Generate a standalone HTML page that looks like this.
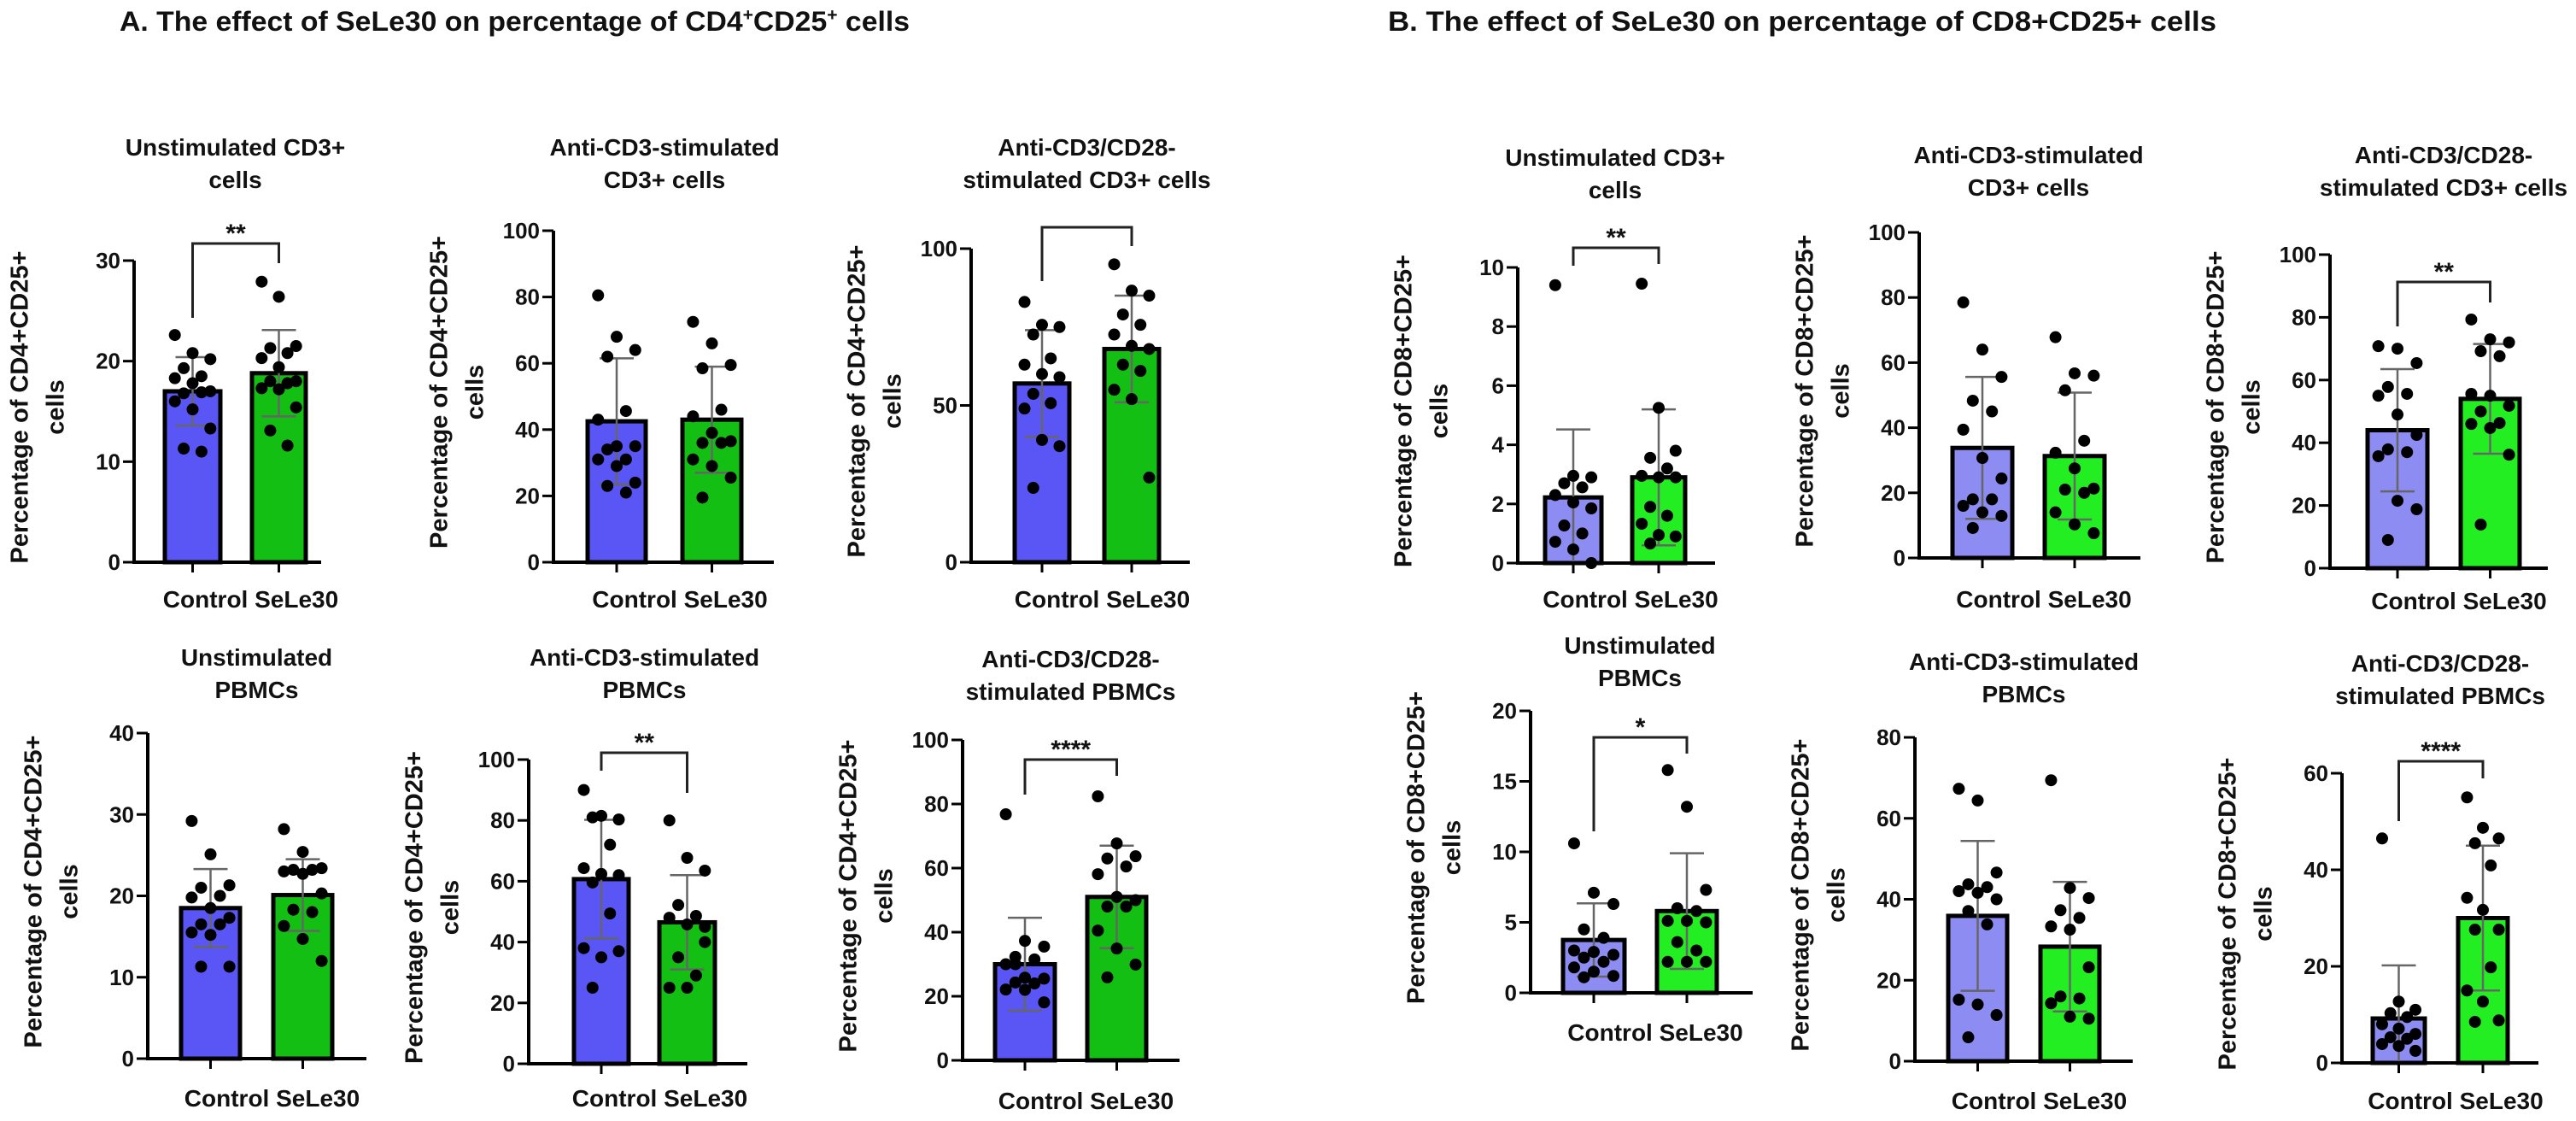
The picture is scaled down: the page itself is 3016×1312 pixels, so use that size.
<!DOCTYPE html>
<html><head><meta charset="utf-8"><style>
html,body{margin:0;padding:0;background:#fff;}
svg{display:block;}
text{font-family:"Liberation Sans",sans-serif;font-weight:bold;fill:#111;}
.narrow{font-family:"Liberation Sans Narrow","Liberation Sans",sans-serif;}
</style></head><body>
<svg id="fig" width="3016" height="1312" viewBox="0 0 3016 1312" xmlns="http://www.w3.org/2000/svg">
<rect width="3016" height="1312" fill="#fff"/>
<text class="narrow" x="140" y="36" font-size="32" textLength="925" lengthAdjust="spacingAndGlyphs">A. The effect of SeLe30 on percentage of CD4<tspan font-size="20" dy="-12">+</tspan><tspan dy="12">CD25</tspan><tspan font-size="20" dy="-12">+</tspan><tspan dy="12"> cells</tspan></text>
<text class="narrow" x="1625" y="36" font-size="32" textLength="970" lengthAdjust="spacingAndGlyphs">B. The effect of SeLe30 on percentage of CD8+CD25+ cells</text>
</svg>
<script>
// ---- data ----
const groups = ["Control", "SeLe30"];
const a1Means = [17, 18.8]; const a1Sd = [3.4, 4.3];
const a1Control = [22.6,20.8,20.2,19.3,18.5,18.3,17.8,17,16.8,16.9,16,15.2,13.3,11.3,11];
const a1Sele = [27.9,26.4,21.5,21.3,20.8,20.3,19.4,18,18,17.8,17.3,17.2,15.4,13.1,11.6];
const a2Means = [42.5, 43]; const a2Sd = [19, 16];
const a2Control = [80.5,68,64,62,45.6,43,35,35,34,31,31,29,24,23,21];
const a2Sele = [72.5,66,59.5,58.5,46,44,39,36.5,36,36,31,29,25.5,19.5];
const a3Means = [57, 68]; const a3Sd = [17, 17];
const a3Control = [83,75.7,75,72.6,65,63,60,59,53.7,50.7,49,39,37,23.7];
const a3Sele = [95,86.6,85,79,75.7,72.6,69,68,63,61,55,52,27];
const a4Means = [18.5, 20.1]; const a4Sd = [4.8, 4.4];
const a4Control = [29.2,25.1,21.3,21,20,19.8,18.5,17.3,16.5,16.5,15.5,15.2,11.3,11.3];
const a4Sele = [28.2,25.4,23.4,23.2,23.2,23,22.7,20.3,18.3,18,16.3,14.7,12];
const a5Means = [60.7, 46.5]; const a5Sd = [19.5, 15.5];
const a5Control = [90,81.5,80.3,81,72,64.3,62.4,62,59.6,49.4,38,35,37,25];
const a5Sele = [80,67.7,63.5,52.2,48.6,48,45.8,40,35,29,25,25,45];
const a6Means = [30, 51]; const a6Sd = [14.5, 16];
const a6Control = [76.8,37.3,35.5,32.3,31.5,30,25.8,25.5,24.3,24,22.1,22,18.1,30];
const a6Sele = [82.4,67.7,63.7,63,60.5,58.1,51,50,48,48,40.5,34.9,29.9,25.9];
const b1Means = [2.22, 2.9]; const b1Sd = [2.3, 2.3];
const b1Control = [9.4,2.95,2.9,2.7,2.56,2.3,2.05,1.85,1.27,1.0,0.72,0.46,0.0];
const b1Sele = [9.45,5.25,3.8,3.56,3.2,2.95,2.9,2.9,1.9,1.6,1.33,0.95,0.9,0.66];
const b2Means = [33.8, 31.3]; const b2Sd = [21.8, 19.5];
const b2Control = [78.5,64,55.6,48.3,45,39.4,30.7,24.4,18,18,16,14,12.9,9.2];
const b2Sele = [67.8,56.7,56,51.5,36,32.3,27.5,21.3,21,20,14,10.3,7.6];
const b3Means = [44, 54]; const b3Sd = [19.5, 17.5];
const b3Control = [70.8,70,65.4,57.8,55.6,55,49,42.5,37.9,37,35.7,21.5,18.8,9];
const b3Sele = [79.3,73,72,69.2,67.6,55.6,55,51.8,50,46.3,46,44.7,36.2,13.9];
const b4Means = [3.75, 5.8]; const b4Sd = [2.6, 4.1];
const b4Control = [10.6,7.1,6.3,4.5,3.9,3,2.9,2.7,2.5,2.2,1.8,1.5,1.2,1.1];
const b4Sele = [15.8,13.2,7.3,6,5.8,5.1,5.1,5,3.6,3,2.2,2.2,2.2];
const b5Means = [35.9, 28.3]; const b5Sd = [18.5, 16];
const b5Control = [67.3,64.4,46.6,43.7,43,42,41.6,40,37.1,33.8,15.2,14,11.4,5.9];
const b5Sele = [69.4,42.8,40.3,37.3,35.4,33.3,32.5,23.2,16,15.5,14.3,11,10.5];
const b6Means = [9.2, 30]; const b6Sd = [11, 15];
const b6Control = [46.5,12.7,11,10.3,9.5,8,7.1,6,5.3,5,3.9,3.5,2.5];
const b6Sele = [55,48.7,46.5,45.5,40.9,34.2,31.7,27.6,27.6,19.8,15,12.7,8.8,8.5];
const a1Ticks = [0,10,20,30]; const a2Ticks = [0,20,40,60,80,100]; const a3Ticks = [0,50,100];
const a4Ticks = [0,10,20,30,40]; const a5Ticks = [0,20,40,60,80,100]; const a6Ticks = [0,20,40,60,80,100];
const b1Ticks = [0,2,4,6,8,10]; const b2Ticks = [0,20,40,60,80,100]; const b3Ticks = [0,20,40,60,80,100];
const b4Ticks = [0,5,10,15,20]; const b5Ticks = [0,20,40,60,80]; const b6Ticks = [0,20,40,60];
const a1Sig = "**"; const a3Sig = ""; const a5Sig = "**"; const a6Sig = "****";
const b1Sig = "**"; const b3Sig = "**"; const b4Sig = "*"; const b6Sig = "****";

const NS = "http://www.w3.org/2000/svg";
const svg = document.getElementById("fig");
function mk(tag, attrs, parent) {
  const e = document.createElementNS(NS, tag);
  for (const k in attrs) e.setAttribute(k, attrs[k]);
  (parent || svg).appendChild(e);
  return e;
}
const colA = ["#5a55f5", "#12bf12"], colB = ["#8c8cf2", "#22ee22"];

function panel(p) {
  const g = mk("g", {});
  
  
  const maxT = p.ticks[p.ticks.length - 1];
  const y = v => p.y0 - (v / maxT) * (p.y0 - p.yTop);
  const bars = [p.c, p.s];
  const mid = (p.c[0] + p.s[1]) / 2;
  // title
  p.title.forEach((t, i) => {
    const tt = mk("text", {x: mid, y: p.ty + i * 38, "font-size": 28, "text-anchor": "middle", class: p.narrow ? "narrow" : ""}, g);
    tt.textContent = t;
    
    
  });
  // y label
  const cy = (p.yTop + p.y0) / 2 - 5;
  [p.ylab, "cells"].forEach((t, i) => {
    const lx = p.ax - (i === 0 ? 132 : 90);
    const tl = mk("text", {x: lx, y: cy, "font-size": 29, "text-anchor": "middle", transform: `rotate(-90 ${lx} ${cy})`, "dominant-baseline": "middle"}, g);
    tl.textContent = t;
    
    
  });
  // bars
  const means = p.means, sds = p.sd, cols = p.cols;
  [p.ctrl, p.sele].forEach((pts, gi) => {
    const b = bars[gi], bw = b[1] - b[0], cx = (b[0] + b[1]) / 2;
    const r = mk("rect", {x: b[0], y: y(means[gi]), width: bw, height: p.y0 - y(means[gi]), fill: cols[gi], stroke: "#000", "stroke-width": 5}, g);
    
    
    const lo = Math.max(0, means[gi] - sds[gi]), hi = means[gi] + sds[gi];
    const eb = mk("path", {d: `M${cx} ${y(lo)}V${y(hi)}M${cx - 20} ${y(hi)}h40M${cx - 20} ${y(lo)}h40`, stroke: "#666", "stroke-width": 2.5, fill: "none"}, g);
    
    
    pts.forEach((v, i) => {
      const off = (((i * 7) % 5) - 2) * bw * 0.16;
      const d = mk("circle", {cx: cx + off, cy: y(v), r: 7, fill: "#000"}, g);
      
      
    });
  });
  // axes
  const ax = mk("path", {d: `M${p.ax} ${p.yTop}V${p.y0}H${p.xEnd}`, stroke: "#000", "stroke-width": 4, fill: "none"}, g);
  
  
  bars.forEach(b => mk("path", {d: `M${(b[0]+b[1])/2} ${p.y0}v12`, stroke: "#000", "stroke-width": 3}, g));
  p.ticks.forEach(t => {
    mk("path", {d: `M${p.ax - 13} ${y(t)}H${p.ax}`, stroke: "#000", "stroke-width": 3}, g);
    const tl = mk("text", {x: p.ax - 16, y: y(t) + 9, "font-size": 26, "text-anchor": "end", fill: "#333", class: p.narrow ? "narrow" : ""}, g);
    tl.textContent = t;
    
    
  });
  const xl = mk("text", {x: mid + 18, y: p.ly, "font-size": 28, "text-anchor": "middle", class: p.narrow ? "narrow" : ""}, g);
  xl.textContent = groups[0] + "  " + groups[1];
  
  
  // significance bracket
  if (p.br) {
    const c1 = (p.c[0] + p.c[1]) / 2, c2 = (p.s[0] + p.s[1]) / 2;
    const br = mk("path", {d: `M${c1} ${p.br[1]}V${p.br[0]}H${c2}V${p.br[2]}`, stroke: "#222", "stroke-width": 3, fill: "none"}, g);
    
    
    if (p.sig) {
      const st = mk("text", {x: (c1 + c2) / 2, y: p.br[0] - 2, "font-size": 30, "text-anchor": "middle", fill: "#333"}, g);
      st.textContent = p.sig;
      
      
    }
  }
}
const L4 = "Percentage of CD4+CD25+", L8 = "Percentage of CD8+CD25+";
panel({name:"panel-a1", title:["Unstimulated CD3+","cells"], ty:182, ylab:L4, ax:157, y0:658, yTop:305, ticks:a1Ticks, xEnd:376, c:[193,258], s:[295,358], ly:711, means:a1Means, sd:a1Sd, ctrl:a1Control, sele:a1Sele, cols:colA, br:[285,372,308], sig:a1Sig});
panel({name:"panel-a2", title:["Anti-CD3-stimulated","CD3+ cells"], ty:182, narrow:true, ylab:L4, ax:648, y0:658, yTop:270, ticks:a2Ticks, xEnd:906, c:[688,756], s:[799,868], ly:711, means:a2Means, sd:a2Sd, ctrl:a2Control, sele:a2Sele, cols:colA});
panel({name:"panel-a3", title:["Anti-CD3/CD28-","stimulated CD3+ cells"], ty:182, narrow:true, ylab:L4, ax:1137, y0:658, yTop:291, ticks:a3Ticks, xEnd:1393, c:[1188,1252], s:[1293,1357], ly:711, means:a3Means, sd:a3Sd, ctrl:a3Control, sele:a3Sele, cols:colA, br:[266,329,288], sig:a3Sig});
panel({name:"panel-a4", title:["Unstimulated","PBMCs"], ty:779, narrow:true, ylab:L4, ax:173, y0:1239, yTop:858, ticks:a4Ticks, xEnd:429, c:[212,281], s:[320,389], ly:1295, means:a4Means, sd:a4Sd, ctrl:a4Control, sele:a4Sele, cols:colA});
panel({name:"panel-a5", title:["Anti-CD3-stimulated","PBMCs"], ty:779, narrow:true, ylab:L4, ax:619, y0:1245, yTop:889, ticks:a5Ticks, xEnd:875, c:[672,736], s:[772,837], ly:1295, means:a5Means, sd:a5Sd, ctrl:a5Control, sele:a5Sele, cols:colA, br:[881,902,928], sig:a5Sig});
panel({name:"panel-a6", title:["Anti-CD3/CD28-","stimulated PBMCs"], ty:781, ylab:L4, ax:1127, y0:1241, yTop:866, ticks:a6Ticks, xEnd:1381, c:[1165,1235], s:[1273,1342], ly:1298, means:a6Means, sd:a6Sd, ctrl:a6Control, sele:a6Sele, cols:colA, br:[889,930,908], sig:a6Sig});
panel({name:"panel-b1", title:["Unstimulated CD3+","cells"], ty:194, ylab:L8, ax:1777, y0:659, yTop:313, ticks:b1Ticks, xEnd:2008, c:[1809,1875], s:[1911,1973], ly:711, means:b1Means, sd:b1Sd, ctrl:b1Control, sele:b1Sele, cols:colB, br:[290,311,309], sig:b1Sig});
panel({name:"panel-b2", title:["Anti-CD3-stimulated","CD3+ cells"], ty:191, narrow:true, ylab:L8, ax:2247, y0:653, yTop:272, ticks:b2Ticks, xEnd:2506, c:[2286,2356], s:[2394,2464], ly:711, means:b2Means, sd:b2Sd, ctrl:b2Control, sele:b2Sele, cols:colB});
panel({name:"panel-b3", title:["Anti-CD3/CD28-","stimulated CD3+ cells"], ty:191, narrow:true, ylab:L8, ax:2728, y0:665, yTop:298, ticks:b3Ticks, xEnd:2983, c:[2772,2842], s:[2881,2950], ly:713, means:b3Means, sd:b3Sd, ctrl:b3Control, sele:b3Sele, cols:colB, br:[330,382,354], sig:b3Sig});
panel({name:"panel-b4", title:["Unstimulated","PBMCs"], ty:765, ylab:L8, ax:1792, y0:1162, yTop:832, ticks:b4Ticks, xEnd:2052, c:[1830,1902], s:[1940,2010], ly:1218, means:b4Means, sd:b4Sd, ctrl:b4Control, sele:b4Sele, cols:colB, br:[863,973,882], sig:b4Sig});
panel({name:"panel-b5", title:["Anti-CD3-stimulated","PBMCs"], ty:784, narrow:true, ylab:L8, ax:2242, y0:1242, yTop:863, ticks:b5Ticks, xEnd:2497, c:[2281,2350], s:[2389,2458], ly:1298, means:b5Means, sd:b5Sd, ctrl:b5Control, sele:b5Sele, cols:colB});
panel({name:"panel-b6", title:["Anti-CD3/CD28-","stimulated PBMCs"], ty:786, narrow:true, ylab:L8, ax:2742, y0:1244, yTop:905, ticks:b6Ticks, xEnd:2972, c:[2778,2839], s:[2878,2936], ly:1298, means:b6Means, sd:b6Sd, ctrl:b6Control, sele:b6Sele, cols:colB, br:[891,961,911], sig:b6Sig});
</script>
</body></html>
